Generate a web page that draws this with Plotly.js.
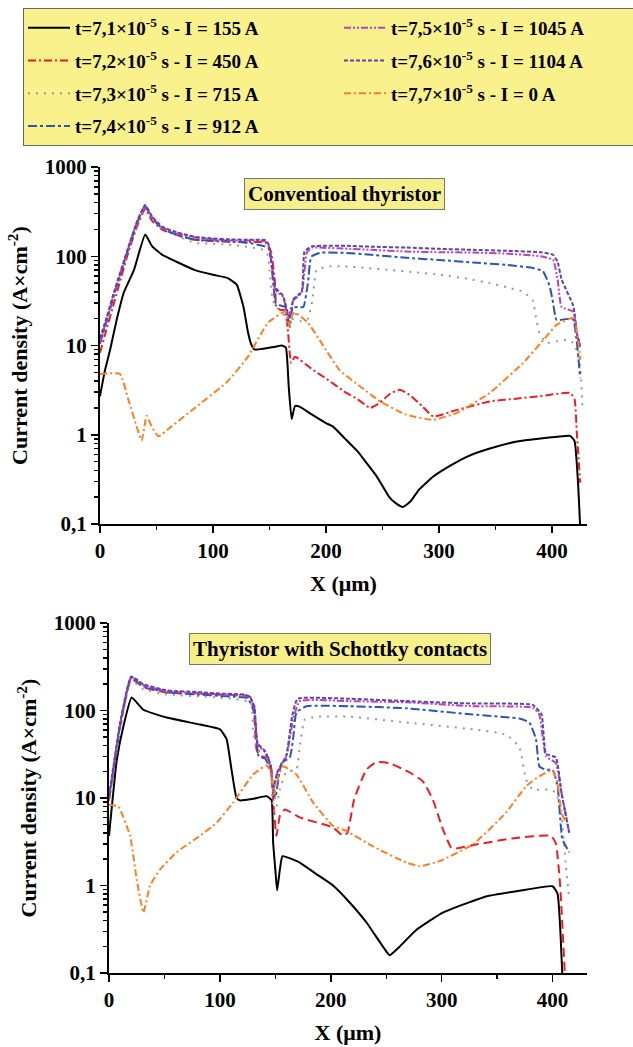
<!DOCTYPE html>
<html>
<head>
<meta charset="utf-8">
<script src="https://cdn.plot.ly/plotly-3.0.1.min.js"></script>
<style>html,body{margin:0;padding:0;background:#fff;}#chart{width:633px;height:1047px;}</style>
</head>
<body>
<div id="chart"></div>
<script>
// ---------- Legend labels ----------
const seriesNames = [
  't=7,1×10<sup>-5</sup> s - I = 155 A',
  't=7,2×10<sup>-5</sup> s - I = 450 A',
  't=7,3×10<sup>-5</sup> s - I = 715 A',
  't=7,4×10<sup>-5</sup> s - I = 912 A',
  't=7,5×10<sup>-5</sup> s - I = 1045 A',
  't=7,6×10<sup>-5</sup> s - I = 1104 A',
  't=7,7×10<sup>-5</sup> s - I = 0 A'
];
const panelTitles = ['Conventioal thyristor', 'Thyristor with Schottky contacts'];
const yTickVals = [0.1, 1, 10, 100, 1000];
const yTickText = ['0,1', '1', '10', '100', '1000'];
const xTickVals = [0, 100, 200, 300, 400];

// ---------- Top panel: conventional thyristor ----------
const top155_x = [0, 4, 9, 15, 21, 30, 40, 46, 55, 70, 84, 100, 113, 121, 127, 131, 134, 137, 145, 155, 161, 164.5, 166, 167, 169.6, 172.6, 177, 187, 200, 206, 217, 228, 236, 245, 256, 262, 268, 275, 282, 295, 310, 325, 345, 369, 390, 405, 416, 420, 423, 425];
const top155_y = [2.7, 5, 9, 20, 39, 70, 175, 130, 104, 84, 70, 62, 57, 48, 27, 14, 10.2, 9, 9.2, 9.7, 10, 9.5, 6, 3.5, 1.5, 2.1, 2.05, 1.7, 1.35, 1.24, 0.9, 0.65, 0.48, 0.34, 0.2, 0.17, 0.155, 0.18, 0.24, 0.34, 0.45, 0.57, 0.7, 0.84, 0.91, 0.95, 0.97, 0.85, 0.3, 0.09];

const top450_x = [0, 5, 13, 25, 33, 40, 46, 55, 70, 84, 100, 113, 130, 146, 149, 151.6, 154.9, 156, 160, 163.6, 166, 168, 169, 172.6, 187, 202, 217, 228, 239, 248, 257, 265.5, 274, 285, 295, 316, 345, 370, 389, 416, 420, 422, 425];
const top450_y = [8.3, 14, 32, 110, 220, 340, 250, 199, 170, 153, 148, 145, 144, 143, 130, 110, 50, 27, 25, 25, 16.3, 8, 6.4, 7.5, 5.5, 4.1, 3.0, 2.5, 2.0, 2.3, 2.9, 3.2, 2.8, 2.1, 1.6, 1.9, 2.36, 2.55, 2.7, 2.95, 2.5, 1.05, 0.29];

const top715_x = [0, 5, 13, 25, 33, 40, 46, 55, 70, 84, 100, 113, 130, 144, 148, 150, 153, 156, 160, 164, 167, 169, 172.6, 178, 184, 188, 191.7, 202, 217, 235, 256.6, 280, 301, 325, 345, 360, 374.6, 383, 386, 389, 395, 405, 413, 419, 422, 425, 427];
const top715_y = [10.7, 17, 38, 118, 230, 350, 260, 210, 165, 141, 138, 135, 128, 118, 107, 70, 32, 27, 24, 21, 15.8, 17, 23, 18.6, 20, 32, 70, 77, 77, 74, 70, 66, 62, 56, 50, 45, 40, 32, 20, 13.8, 10.7, 11.2, 11.6, 10.7, 8.5, 5.8, 2];

const top912_x = [0, 5, 13, 25, 33, 40, 46, 55, 70, 84, 100, 113, 130, 146, 150, 153, 155.5, 160, 164, 166.6, 168, 170.3, 175, 180, 184, 187, 196, 217, 240, 271, 300, 330, 360, 383, 392, 398, 401, 404, 416, 419, 421.8, 425];
const top912_y = [10.5, 17, 39, 120, 240, 365, 270, 205, 170, 153, 150, 148, 142, 129, 120, 55, 30, 28, 27, 19.4, 16.3, 26.5, 27, 27, 50, 99, 110, 109, 104, 96, 91, 85, 80, 74, 68, 46, 30, 19.4, 20, 19.4, 11.6, 4.3];

const top1045_x = [0, 5, 13, 25, 33, 40, 46, 55, 70, 84, 100, 113, 130, 146, 149, 152, 155, 162, 166.7, 171, 178.5, 183, 187.3, 200, 217, 240, 271, 300, 330, 360, 390, 401, 405, 408.5, 419, 422, 425];
const top1045_y = [11, 18, 40, 122, 245, 370, 275, 210, 178, 162, 155, 151, 150, 148, 134, 80, 42, 35, 21, 32, 39, 110, 125, 124, 122, 118, 113, 111, 110, 107, 100, 91, 55, 27, 24, 13.8, 9.7];

const top1104_x = [0, 5, 13, 25, 33, 40, 46, 55, 70, 84, 100, 113, 130, 146, 149, 152, 155, 162, 166.7, 169, 171, 178.5, 181, 187.3, 200, 217, 240, 271, 300, 330, 360, 390, 401, 403, 405, 408.5, 419, 422, 425];
const top1104_y = [12, 19, 42, 125, 250, 375, 280, 215, 182, 165, 158, 155, 153, 152, 138, 80, 45, 36, 22, 20, 33, 40, 113, 129, 131, 131, 128, 125, 121, 118, 115, 111, 104, 95, 87, 55, 27.5, 13.8, 9.7];

const top0_x = [0, 17.7, 25, 32.4, 36.9, 41.3, 45.7, 51.6, 63.4, 84, 113, 131, 148.7, 163.7, 166, 168, 170, 172.6, 184, 196, 212, 230, 248, 271, 295, 316, 345, 374.6, 395, 404, 419, 423, 425];
const top0_y = [4.8, 4.8, 2.5, 1.24, 0.86, 1.63, 1.24, 0.96, 1.24, 2.0, 3.96, 7.5, 18, 24, 20, 16, 22, 23.4, 18, 10.7, 5.3, 3.5, 2.36, 1.68, 1.47, 1.76, 2.95, 6.4, 12.6, 17, 20.4, 11.6, 6.9];

// ---------- Bottom panel: Schottky contacts ----------
const bot155_x = [0, 7, 13, 20.4, 31, 52, 82, 100, 106, 110.5, 115, 118, 130, 142, 146.5, 148, 150, 151.6, 154, 156.5, 172, 187, 202, 217, 232, 247, 253, 262, 277, 301, 340, 370, 400, 404.5, 407, 408.7];
const bot155_y = [3.7, 27, 66, 141, 102, 83, 69, 61, 47, 21, 10, 9.4, 9.8, 10.5, 9.5, 3.1, 1.5, 0.88, 1.5, 2.16, 1.83, 1.35, 1.0, 0.64, 0.38, 0.2, 0.16, 0.2, 0.31, 0.49, 0.75, 0.87, 0.98, 0.8, 0.3, 0.1];

const bot450_x = [0, 5, 10, 20, 31, 52, 82, 100, 122, 128, 130.6, 133, 136, 143.5, 146.5, 148, 151, 154, 158.6, 172, 202, 211, 215, 221, 232, 241, 253, 271, 283, 292, 301, 308.6, 313, 331, 367, 398.6, 403, 406.6, 411];
const bot450_y = [9.5, 25, 65, 230, 185, 160, 155, 152, 148, 140, 102, 36, 30, 29, 21, 9.6, 3.7, 6.2, 7.4, 6, 4.6, 3.7, 4.0, 9.6, 21, 25.7, 25, 19.6, 15.5, 9.6, 4.4, 2.7, 2.65, 2.94, 3.5, 3.7, 3.0, 1.08, 0.1];

const bot715_x = [0, 5, 10, 20, 31, 52, 82, 100, 112, 122, 128, 130, 133, 141, 146, 148, 150, 154, 160, 169, 172, 176.6, 187, 217, 268, 328, 358, 370, 376, 382, 397, 403, 408, 412, 415];
const bot715_y = [9.2, 24, 60, 220, 175, 152, 145, 140, 136, 130, 124, 56, 37, 30, 20, 7.4, 7, 12.5, 20, 21, 39, 79, 85, 85, 73, 61, 53, 38, 16.3, 12.5, 12.5, 11.5, 6.2, 1.66, 0.69];

const bot912_x = [0, 5, 10, 20, 31, 52, 82, 100, 112, 125, 131, 135, 141, 146, 148.6, 150, 155.6, 163, 166, 169, 178, 217, 268, 328, 370, 379, 385, 388, 394, 400, 404.5, 408.7, 415];
const bot912_y = [9.8, 26, 68, 235, 190, 162, 152, 147, 144, 138, 95, 30, 28, 20, 11.5, 10, 25, 29, 47, 95, 112, 112, 106, 90, 81, 73, 47, 23, 21, 21, 13.6, 3.4, 2.4];

const bot1045_x = [0, 5, 10, 20, 31, 52, 82, 100, 122, 127, 131, 134, 141, 146, 148, 152, 160, 166, 172, 217, 268, 328, 382, 388, 394, 403, 408, 415];
const bot1045_y = [10, 27, 70, 240, 195, 166, 158, 152, 148, 140, 110, 41, 33, 22, 12, 19.6, 30, 79, 128, 128, 124, 112, 108, 90, 30, 25, 11.5, 4.0];

const bot1104_x = [0, 5, 10, 20, 31, 52, 82, 100, 122, 127, 131, 134, 141, 146, 148, 152, 160, 165, 170, 217, 268, 328, 382, 390, 394, 403, 408, 415];
const bot1104_y = [10.5, 28, 72, 245, 200, 170, 162, 156, 152, 144, 112, 42, 34, 23, 12.5, 20, 31, 85, 136, 136, 128, 120, 116, 90, 32, 29, 11.5, 4.0];

const bot0_x = [0, 8.4, 19, 25, 31, 37, 46, 61, 82, 97, 112, 130, 142, 146, 149, 153, 157, 169, 184, 202, 214, 238, 268, 280, 298, 328, 358, 376, 388, 400, 404.5, 408, 412];
const bot0_y = [8.4, 8.0, 3.7, 1.17, 0.49, 1.0, 1.52, 2.4, 3.7, 5.2, 8.9, 18.6, 23.5, 20, 11, 18, 23, 18.6, 8.9, 4.8, 4.2, 2.8, 1.83, 1.66, 1.9, 2.94, 6.8, 13.6, 17.7, 20.6, 14.6, 6.8, 5.2];

// ---------- styles ----------
const styles = [
  {color: '#000000', dash: 'solid', width: 2},
  {color: '#ee1c24', dash: '8px,3px,2px,3px', width: 2},
  {color: '#999999', dash: '2px,6px', width: 2},
  {color: '#2a55b8', dash: '9px,3px,3px,3px', width: 2},
  {color: '#c040b8', dash: '7px,2px,2px,2px,2px,2px', width: 2},
  {color: '#5a44b0', dash: '4px,2px', width: 2},
  {color: '#ff7f1e', dash: '7px,3px,2px,3px', width: 2}
];
// legend is read row by row: (7.1, 7.5), (7.2, 7.6), (7.3, 7.7), (7.4)
const legendRanks = [1, 3, 5, 7, 2, 4, 6];

const topX = [top155_x, top450_x, top715_x, top912_x, top1045_x, top1104_x, top0_x];
const topY = [top155_y, top450_y, top715_y, top912_y, top1045_y, top1104_y, top0_y];
const botX = [bot155_x, bot450_x, bot715_x, bot912_x, bot1045_x, bot1104_x, bot0_x];
const botY = [bot155_y, bot450_y, bot715_y, bot912_y, bot1045_y, bot1104_y, bot0_y];

const traces = [];
for (let i = 0; i < 7; i++) {
  traces.push({
    x: topX[i], y: topY[i], type: 'scatter', mode: 'lines',
    name: seriesNames[i], legendrank: legendRanks[i], legendgroup: 'g' + legendRanks[i],
    line: {color: styles[i].color, dash: styles[i].dash, width: styles[i].width, shape: 'spline', smoothing: 0.4},
    xaxis: 'x', yaxis: 'y', hoverinfo: 'skip'
  });
}
for (let i = 0; i < 7; i++) {
  const dash = (i === 1) ? '9px,5px' : styles[i].dash;
  traces.push({
    x: botX[i], y: botY[i], type: 'scatter', mode: 'lines',
    name: seriesNames[i], showlegend: false, legendgroup: 'g' + legendRanks[i],
    line: {color: styles[i].color, dash: dash, width: styles[i].width, shape: 'spline', smoothing: 0.4},
    xaxis: 'x2', yaxis: 'y2', hoverinfo: 'skip'
  });
}

// minor tick values
const yMinor = [];
for (let d = -1; d < 3; d++) for (let k = 2; k <= 9; k++) yMinor.push(k * Math.pow(10, d));
const xMinor = [50, 150, 250, 350];

const FONT = 'Liberation Serif, Times New Roman, serif';
const W = 633, H = 1047;
const topDomX = [100 / W, 587 / W], topDomY = [1 - 524 / H, 1 - 167 / H];
const botDomX = [109 / W, 587 / W], botDomY = [1 - 973 / H, 1 - 623 / H];
const xRange = [0, 431];
const yRange = [-1, 3];

function xMain(domain, anchor) {
  return {
    domain: domain, anchor: anchor, range: xRange, showgrid: false, zeroline: false,
    showline: true, linecolor: '#000', linewidth: 2,
    ticks: 'outside', ticklen: 7, tickwidth: 1.5, tickcolor: '#000',
    tickvals: xTickVals, ticktext: xTickVals.map(String),
    tickfont: {family: FONT, size: 21, color: '#000', weight: 'bold'},
    minor: {tickvals: xMinor, ticks: 'outside', ticklen: 4, tickwidth: 1.5, tickcolor: '#000', showgrid: false},
    title: {text: 'X (μm)', font: {family: FONT, size: 22, color: '#000', weight: 'bold'}, standoff: 13}
  };
}
function xMirror(over, anchor) {
  return {
    overlaying: over, anchor: anchor, side: 'top', range: xRange, showgrid: false, zeroline: false,
    showline: true, linecolor: '#000', linewidth: 2,
    ticks: 'inside', ticklen: 7, tickwidth: 1.5, tickcolor: '#000',
    tickvals: xTickVals, showticklabels: false,
    minor: {tickvals: xMinor, ticks: 'inside', ticklen: 4, tickwidth: 1.5, tickcolor: '#000', showgrid: false}
  };
}
function yMain(domain, anchor) {
  return {
    domain: domain, anchor: anchor, type: 'log', range: yRange, showgrid: false, zeroline: false,
    showline: true, linecolor: '#000', linewidth: 2,
    ticks: 'outside', ticklen: 7, tickwidth: 1.5, tickcolor: '#000',
    tickvals: yTickVals, ticktext: yTickText,
    tickfont: {family: FONT, size: 21, color: '#000', weight: 'bold'},
    minor: {tickvals: yMinor, ticks: 'outside', ticklen: 4, tickwidth: 1.5, tickcolor: '#000', showgrid: false},
    title: {text: 'Current density (A×cm<sup>-2</sup>)', font: {family: FONT, size: 22, color: '#000', weight: 'bold'}, standoff: 11}
  };
}
function yMirror(over, anchor) {
  return {
    overlaying: over, anchor: anchor, side: 'right', type: 'log', range: yRange, showgrid: false, zeroline: false,
    showline: true, linecolor: '#000', linewidth: 2,
    ticks: 'inside', ticklen: 8, tickwidth: 1.5, tickcolor: '#000',
    tickvals: yTickVals, showticklabels: false,
    minor: {tickvals: yMinor, ticks: 'inside', ticklen: 5, tickwidth: 1.5, tickcolor: '#000', showgrid: false}
  };
}

const layout = {
  width: W, height: H,
  margin: {l: 0, r: 0, t: 0, b: 0, autoexpand: false},
  paper_bgcolor: '#ffffff', plot_bgcolor: '#ffffff',
  separators: ', ',
  showlegend: true,
  xaxis: xMain(topDomX, 'y'),
  yaxis: yMain(topDomY, 'x'),
  xaxis2: xMain(botDomX, 'y2'),
  yaxis2: yMain(botDomY, 'x2'),
  xaxis3: xMirror('x', 'y'),
  yaxis3: yMirror('y', 'x'),
  xaxis4: xMirror('x2', 'y2'),
  yaxis4: yMirror('y2', 'x2'),
  legend: {
    orientation: 'h', x: 23 / W, y: 1 - 8 / H, xanchor: 'left', yanchor: 'top',
    entrywidth: 259, entrywidthmode: 'pixels', itemwidth: 42,
    bgcolor: '#f9f18b', bordercolor: '#666666', borderwidth: 1,
    font: {family: FONT, size: 19, color: '#000', weight: 'bold'},
    traceorder: 'grouped', tracegroupgap: 5
  },
  annotations: [
    {text: panelTitles[0], xref: 'paper', yref: 'paper', x: 344 / W, y: 1 - 194 / H,
     xanchor: 'center', yanchor: 'middle', showarrow: false,
     font: {family: FONT, size: 21, color: '#000', weight: 'bold'},
     bgcolor: '#f7f08a', bordercolor: '#777777', borderwidth: 1, borderpad: 3},
    {text: panelTitles[1], xref: 'paper', yref: 'paper', x: 339.5 / W, y: 1 - 648.5 / H,
     xanchor: 'center', yanchor: 'middle', showarrow: false,
     font: {family: FONT, size: 21, color: '#000', weight: 'bold'},
     bgcolor: '#f7f08a', bordercolor: '#777777', borderwidth: 1, borderpad: 3}
  ]
};

Plotly.newPlot('chart', traces, layout, {staticPlot: true, displayModeBar: false});
</script>
</body>
</html>
